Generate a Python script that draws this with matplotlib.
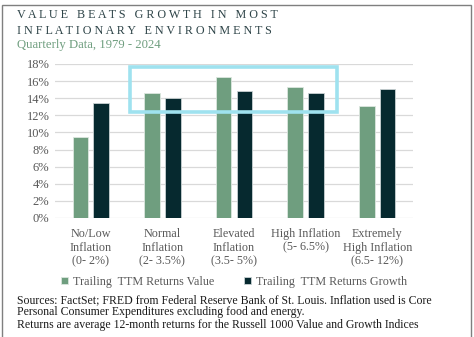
import matplotlib.pyplot as plt
import matplotlib.patches as patches
import numpy as np

# Rendimientos medios por régimen de inflación
categorias = ['No/Low\nInflation\n(0- 2%)', 'Normal\nInflation\n(2- 3.5%)',
              'Elevated\nInflation\n(3.5- 5%)', 'High Inflation\n(5- 6.5%)',
              'Extremely\nHigh Inflation\n(6.5- 12%)']
valor = [9.5, 14.6, 16.5, 15.3, 13.1]
crecimiento = [13.4, 14.0, 14.9, 14.6, 15.1]
ticks_y = [0, 2, 4, 6, 8, 10, 12, 14, 16, 18]

verde = '#6f9e7f'
oscuro = '#06292f'
gris = '#595959'
serif = 'Liberation Serif'

fig = plt.figure(figsize=(4.74, 3.37), dpi=100)
ax = fig.add_axes([55 / 474, 1 - 218 / 337, 358 / 474, 154 / 337])

x = np.arange(len(categorias))
ancho = 0.22
ax.bar(x - 0.145, valor, ancho, color=verde, edgecolor='#dce6df', linewidth=0.6,
       label='Trailing  TTM Returns Value', zorder=3)
ax.bar(x + 0.145, crecimiento, ancho, color=oscuro, edgecolor='#c9d2d3', linewidth=0.6,
       label='Trailing  TTM Returns Growth', zorder=3)

ax.set_xlim(-0.5, len(categorias) - 0.5)
ax.set_ylim(0, 18)
ax.set_yticks(ticks_y)
ax.set_yticklabels([f'{t}%' for t in ticks_y], fontsize=9, color=gris, family=serif)
ax.set_xticks(x)
ax.set_xticklabels(categorias, fontsize=8.7, color=gris, family=serif, linespacing=1.2)
ax.tick_params(length=0, pad=4)
ax.tick_params(axis='x', pad=7)
ax.grid(axis='y', color='#d9d9d9', linewidth=0.9, zorder=0)
for s in ax.spines.values():
    s.set_visible(False)

# Recuadro que resalta los regímenes intermedios
ax.add_patch(patches.Rectangle((0.547, 12.35), 2.887, 5.35, fill=False,
                               edgecolor='#9fe2ef', linewidth=2.6, zorder=4,
                               clip_on=False))

# Leyenda
ax.legend(loc='center', bbox_to_anchor=(0.5, -0.415), ncol=2, frameon=False,
          prop={'family': serif, 'size': 8.7}, labelcolor=gris, handlelength=0.6,
          handleheight=0.6, handletextpad=0.4, columnspacing=2.4)

# Títulos
fig.text(17 / 474, 1 - 15 / 337, 'V A L U E   B E A T S   G R O W T H   I N   M O S T',
         fontsize=8.7, color='#2e4448', family=serif, va='center')
fig.text(17 / 474, 1 - 31 / 337, 'I N F L A T I O N A R Y   E N V I R O N M E N T S',
         fontsize=8.7, color='#2e4448', family=serif, va='center')
fig.text(17 / 474, 1 - 45 / 337, 'Quarterly Data, 1979 - 2024',
         fontsize=9.2, color='#6f9e7f', family=serif, va='center')

# Notas al pie
notas = ('Sources: FactSet; FRED from Federal Reserve Bank of St. Louis. Inflation used is Core\n'
         'Personal Consumer Expenditures excluding food and energy.\n'
         'Returns are average 12-month returns for the Russell 1000 Value and Growth Indices')
fig.text(17 / 474, 1 - 294 / 337, notas, fontsize=8.5, color='#1a1a1a', family=serif,
         va='top', linespacing=1.05)

# Marco
fig.add_artist(patches.Rectangle((2 / 474, -0.01), 468.5 / 474, 1 - 5 / 337 + 0.01,
                                 transform=fig.transFigure, fill=False,
                                 edgecolor='#7f7f7f', linewidth=1.0))

fig.savefig('out.png', dpi=100)
